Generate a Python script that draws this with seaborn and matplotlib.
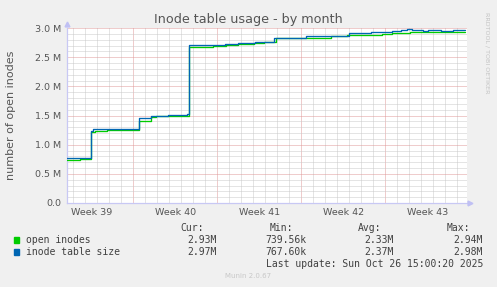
import matplotlib
matplotlib.use("Agg")
import numpy as np
import pandas as pd
import matplotlib.pyplot as plt
import seaborn as sns
from matplotlib.ticker import MultipleLocator, FuncFormatter, FixedLocator
import matplotlib.transforms as mtransforms

# ---------------- data (days since left edge of graph, values in millions) -------------
open_days = [0.0, 1.1, 2.02, 2.36, 3.33, 6.02, 7.0, 7.4, 10.2, 12.2, 13.3, 14.3,
             15.6, 16.4, 17.4, 22.0, 23.4, 26.3, 27.1, 28.6, 30.1, 32.4, 33.2]
open_vals = [0.740, 0.755, 1.210, 1.234, 1.251, 1.410, 1.480, 1.497, 2.674, 2.696,
             2.714, 2.730, 2.740, 2.754, 2.823, 2.862, 2.879, 2.897, 2.920, 2.936,
             2.926, 2.940, 2.940]

size_days = [0.0, 2.02, 2.2, 6.02, 7.0, 8.4, 10.0, 10.2, 13.2, 14.3, 15.7, 17.3,
             19.9, 23.5, 25.4, 27.1, 27.9, 28.4, 28.8, 29.7, 30.1, 31.2, 32.2, 33.2]
size_vals = [0.768, 1.240, 1.268, 1.450, 1.490, 1.505, 1.530, 2.703, 2.730, 2.740,
             2.765, 2.833, 2.857, 2.910, 2.930, 2.953, 2.970, 2.980, 2.965, 2.950,
             2.970, 2.953, 2.965, 2.965]

week_labels = ["Week 39", "Week 40", "Week 41", "Week 42", "Week 43"]
week_label_days = [2.05, 9.05, 16.05, 23.05, 30.05]
week_bound_days = [5.55, 12.55, 19.55, 26.55]

series_names = ["open inodes", "inode table size"]
series_colors = ["#00CC00", "#0066B3"]
cur_vals = ["2.93M", "2.97M"]
min_vals = ["739.56k", "767.60k"]
avg_vals = ["2.33M", "2.37M"]
max_vals = ["2.94M", "2.98M"]

title = "Inode table usage - by month"
ylabel = "number of open inodes"
last_update = "Last update: Sun Oct 26 15:00:20 2025"
footer = "Munin 2.0.67"
side_text = "RRDTOOL / TOBI OETIKER"

# ---------------- figure ----------------
W, H = 497, 287
sns.set_style("white")
plt.rcParams["font.family"] = ["DejaVu Sans"]
fig = plt.figure(figsize=(W / 100, H / 100), dpi=100, facecolor="#F0F0F0")


def fx(px):
    return px / W


def fy(py):
    return 1 - py / H


left, right, top, bottom = 66.7, 467.0, 28.0, 203.0
ax = fig.add_axes([fx(left), fy(bottom), (right - left) / W, (bottom - top) / H])
ax.set_facecolor("white")

df_open = pd.DataFrame({"day": open_days, "value": open_vals})
df_size = pd.DataFrame({"day": size_days, "value": size_vals})
sns.lineplot(data=df_open, x="day", y="value", drawstyle="steps-post",
             color=series_colors[0], lw=0.95, ax=ax, zorder=3)
sns.lineplot(data=df_size, x="day", y="value", drawstyle="steps-post",
             color=series_colors[1], lw=0.95, ax=ax, zorder=4)

ax.set_xlim(0, (right - left) / 12.0)
ax.set_ylim(0, 3.0)

# grid
ax.xaxis.set_major_locator(FixedLocator(week_bound_days))
ax.xaxis.set_minor_locator(FixedLocator(list(np.arange(0.55, 33.4, 1.0))))
ax.yaxis.set_major_locator(MultipleLocator(0.5))
ax.yaxis.set_minor_locator(MultipleLocator(0.1))
ax.set_axisbelow(True)
ax.grid(which="minor", color="#cacaca", ls=(0, (1, 1)), lw=0.72)
ax.grid(which="major", color="#e09a9a", ls=(0, (1, 1)), lw=0.72)

ax.yaxis.set_major_formatter(FuncFormatter(lambda v, p: "0.0" if abs(v) < 1e-9 else f"{v:.1f} M"))
ax.tick_params(axis="y", which="major", length=2, width=0.7, color="#bbbbbb",
               labelsize=6.8, labelcolor="#555555", pad=2)
ax.tick_params(axis="y", which="minor", length=0)
ax.tick_params(axis="x", which="major", length=2.5, width=0.7, color="#e09c9c",
               labelbottom=False)
ax.tick_params(axis="x", which="minor", length=1.5, width=0.6, color="#cccccc")
ax.set_xlabel("")
ax.set_ylabel("")

for s in ["top", "right"]:
    ax.spines[s].set_visible(False)
for s in ["left", "bottom"]:
    ax.spines[s].set_color("#c8c8f4")
    ax.spines[s].set_linewidth(0.9)
ax.plot([1.0075], [0], marker=">", ms=3.5, color="#c0c0f4", transform=ax.transAxes,
        clip_on=False, zorder=5)
ax.plot([0], [1.025], marker="^", ms=3.5, color="#c0c0f4", transform=ax.transAxes,
        clip_on=False, zorder=5)

trans = mtransforms.blended_transform_factory(ax.transData, ax.transAxes)
for d, lab in zip(week_label_days, week_labels):
    ax.text(d, -0.055, lab, transform=trans, ha="center", va="center",
            fontsize=6.8, color="#555555")

# titles
fig.text(fx(248), fy(19), title, ha="center", va="center", fontsize=9.2, color="#555555")
fig.text(fx(11), fy(115), ylabel, ha="center", va="center", rotation=90,
         fontsize=8, color="#555555")
fig.text(fx(487), fy(53), side_text, ha="center", va="center", rotation=270,
         fontsize=4.6, color="#c4c4c4")

# legend
mono = "DejaVu Sans Mono"
lc = "#404040"
fs = 7
hdr_y = 228
fig.text(fx(204), fy(hdr_y), "Cur:", ha="right", va="center", family=mono, fontsize=fs, color=lc)
fig.text(fx(293), fy(hdr_y), "Min:", ha="right", va="center", family=mono, fontsize=fs, color=lc)
fig.text(fx(381), fy(hdr_y), "Avg:", ha="right", va="center", family=mono, fontsize=fs, color=lc)
fig.text(fx(470), fy(hdr_y), "Max:", ha="right", va="center", family=mono, fontsize=fs, color=lc)

rows_y = [240, 252]
for i, ry in enumerate(rows_y):
    fig.patches.append(plt.Rectangle((fx(14), fy(ry + 2.6)), 5.4 / W, 5.4 / H,
                                     transform=fig.transFigure, color=series_colors[i],
                                     figure=fig))
    fig.text(fx(26.5), fy(ry), series_names[i], ha="left", va="center", family=mono,
             fontsize=fs, color=lc)
    fig.text(fx(217), fy(ry), cur_vals[i], ha="right", va="center", family=mono, fontsize=fs, color=lc)
    fig.text(fx(306), fy(ry), min_vals[i], ha="right", va="center", family=mono, fontsize=fs, color=lc)
    fig.text(fx(394), fy(ry), avg_vals[i], ha="right", va="center", family=mono, fontsize=fs, color=lc)
    fig.text(fx(483), fy(ry), max_vals[i], ha="right", va="center", family=mono, fontsize=fs, color=lc)

fig.text(fx(483), fy(264), last_update, ha="right", va="center", family=mono,
         fontsize=fs, color=lc)
fig.text(fx(248), fy(276), footer, ha="center", va="center", fontsize=5,
         color="#c8c8c8")

fig.savefig("out.png", dpi=100, facecolor=fig.get_facecolor())
